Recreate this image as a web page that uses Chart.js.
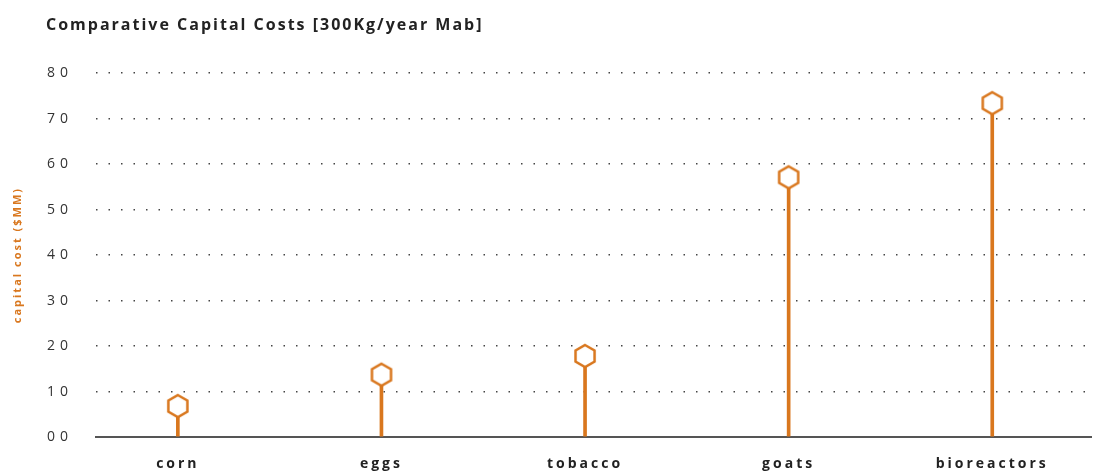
<!DOCTYPE html>
<html>
<head>
<meta charset="utf-8">
<script src="https://cdn.jsdelivr.net/npm/chart.js@4"></script>
<style>
  html, body { margin: 0; padding: 0; background: #fff; }
  #wrap { width: 1103px; height: 476px; }
</style>
</head>
<body>
<div id="wrap"><canvas id="chart"></canvas></div>
<script>
var categories = ['corn', 'eggs', 'tobacco', 'goats', 'bioreactors'];
var capitalCost = [6.8, 13.7, 17.8, 57.1, 73.4];
var yTickLabels = ['00', '10', '20', '30', '40', '50', '60', '70', '80'];

var orange = '#d9771e';

// hexagon marker
function makeHex() {
  var c = document.createElement('canvas');
  c.width = 28; c.height = 28;
  var g = c.getContext('2d');
  g.beginPath();
  for (var k = 0; k < 6; k++) {
    var a = (-90 + 60 * k) * Math.PI / 180;
    var px = 14 + 11 * Math.cos(a), py = 14 + 11 * Math.sin(a);
    if (k === 0) g.moveTo(px, py); else g.lineTo(px, py);
  }
  g.closePath();
  g.fillStyle = '#fff';
  g.fill();
  g.lineWidth = 2.5;
  g.strokeStyle = orange;
  g.stroke();
  return c;
}
var hex = makeHex();

var points = categories.map(function (c, i) { return { x: i, y: capitalCost[i] }; });

function wrapLabels(scale, ls) {
  if (scale._lsWrapped) return;
  var orig = scale.drawLabels.bind(scale);
  scale.drawLabels = function (area) {
    var c = this.ctx;
    var prev = c.letterSpacing;
    c.letterSpacing = ls;
    orig(area);
    c.letterSpacing = prev;
  };
  scale._lsWrapped = true;
}

var spacing = {
  id: 'spacing',
  afterLayout: function (chart) {
    wrapLabels(chart.scales.x, '3px');
    wrapLabels(chart.scales.y, '5px');
    if (chart.titleBlock) chart.titleBlock.left = 46;
  },
  beforeDraw: function (chart) {
    chart.ctx.letterSpacing = '2px';
  }
};

new Chart(document.getElementById('chart'), {
  data: {
    datasets: [
      {
        type: 'line',
        data: points,
        showLine: false,
        pointStyle: hex,
        pointRadius: 11,
        pointHoverRadius: 11,
        order: 0
      },
      {
        type: 'bar',
        data: points,
        backgroundColor: orange,
        barThickness: 3,
        order: 1
      }
    ]
  },
  options: {
    responsive: true,
    maintainAspectRatio: false,
    animation: false,
    layout: { padding: { left: 8, right: 10, top: 0, bottom: 0 } },
    plugins: {
      legend: { display: false },
      tooltip: { enabled: false },
      title: {
        display: true,
        text: 'Comparative Capital Costs [300Kg/year Mab]',
        align: 'start',
        color: '#222',
        font: { family: 'Open Sans', size: 16, weight: 'bold' },
        padding: { top: 16, bottom: 38 }
      }
    },
    scales: {
      x: {
        type: 'linear',
        offset: false,
        min: -0.402,
        max: 4.485,
        afterBuildTicks: function (scale) {
          scale.ticks = categories.map(function (c, i) { return { value: i }; });
        },
        afterFit: function (scale) { scale.height = 39; },
        grid: { display: false, drawTicks: false, offset: false },
        border: { display: true, color: '#555', width: 2 },
        ticks: {
          padding: 19,
          color: '#222',
          font: { family: 'Open Sans', size: 14, weight: 'bold' },
          callback: function (v) { return categories[v]; }
        }
      },
      y: {
        min: 0,
        max: 80,
        afterFit: function (scale) { scale.width = 88; },
        grid: {
          drawTicks: false,
          color: function (ctx) { return ctx.tick && ctx.tick.value === 0 ? 'rgba(0,0,0,0)' : '#444'; },
          lineWidth: 1.5
        },
        border: { display: false, dash: [1.5, 11] },
        ticks: {
          stepSize: 10,
          padding: 23,
          color: '#333',
          font: { family: 'Open Sans', size: 14 },
          callback: function (v) { return yTickLabels[v / 10]; }
        },
        title: {
          display: true,
          text: 'capital cost ($MM)',
          color: orange,
          font: { family: 'Open Sans', size: 11, weight: 'bold' },
          padding: { top: 3, bottom: 0 }
        }
      }
    }
  },
  plugins: [spacing]
});
</script>
</body>
</html>
